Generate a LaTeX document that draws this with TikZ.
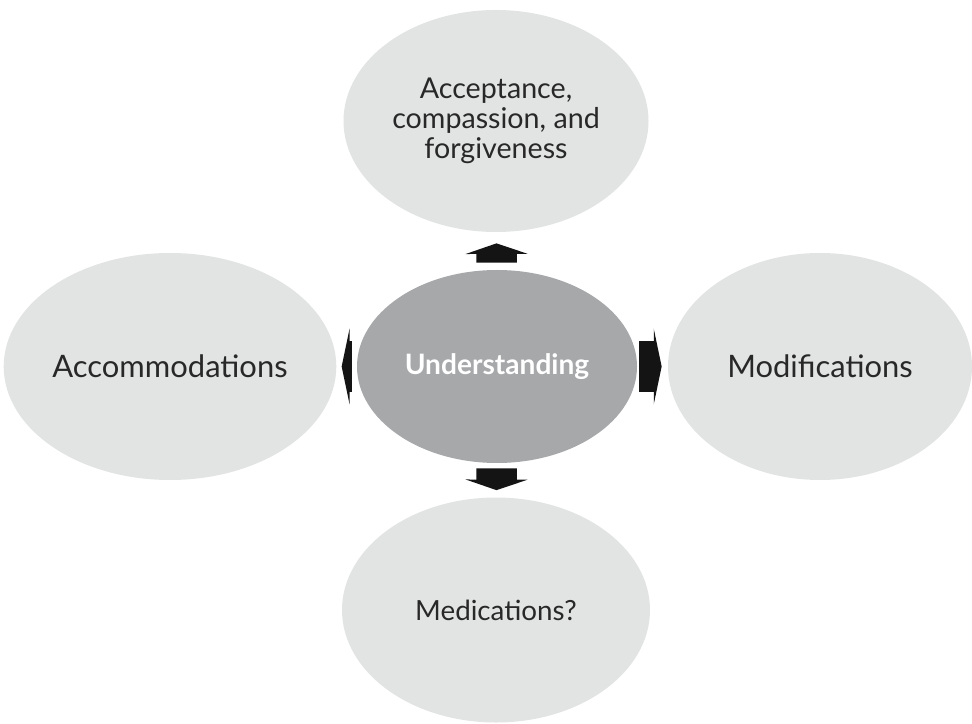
\documentclass[tikz,border=0pt]{standalone}
\usepackage{fontspec}
\setmainfont{Lato}
\usetikzlibrary{arrows.meta,positioning,shapes.geometric}
\definecolor{petal}{RGB}{226,227,227}
\definecolor{core}{RGB}{166,168,170}
\definecolor{ink}{RGB}{40,40,40}
\tikzset{
  petal/.style={ellipse, fill=petal, draw=none, inner sep=0pt, text=ink,
                align=center, font=\fontsize{16.3}{17}\selectfont},
  bigtext/.style={font=\fontsize{17.6}{20}\selectfont},
  core/.style={ellipse, fill=core, draw=none, inner sep=0pt, text=white,
               font=\fontsize{16}{19}\selectfont\bfseries},
  vblock/.style={-{Triangle[width=35pt,length=6pt]}, line width=23pt, black!92},
  hblock/.style={-{Triangle[width=43pt,length=4.5pt]}, line width=29pt, black!92},
}
\begin{document}
\begin{tikzpicture}
    \useasboundingbox (0,0) rectangle (19.44,14.46);
    \node[core, minimum width=5.6cm, minimum height=3.86cm] (und) at (9.94,7.13) {Understanding};
    \node[petal, minimum width=6.1cm, minimum height=4.44cm] (acc) at (9.92,12.04)
      {Acceptance,\\compassion, and\\forgiveness};
    \node[petal, bigtext, minimum width=6.32cm, minimum height=4.54cm] (left) at (3.40,7.13)
      {Accommodations};
    \node[petal, bigtext, minimum width=6.08cm, minimum height=4.54cm] (right) at (16.40,7.13)
      {Modifications};
    \node[petal, minimum width=6.16cm, minimum height=4.5cm, font=\fontsize{15.8}{18}\selectfont]
      (med) at (9.92,2.26) {Medications?};
    % block arrows in the gaps
    \draw[vblock, shorten <=0.14cm, shorten >=0.22cm] (und) -- (acc);
    \draw[vblock, shorten <=0.1cm, shorten >=0.14cm] (und) -- (med);
    \draw[hblock, shorten <=0.1cm, shorten >=0.1cm] (und) -- (left);
    \draw[hblock, shorten <=0.04cm, shorten >=0.12cm] (und) -- (right);
\end{tikzpicture}
\end{document}
